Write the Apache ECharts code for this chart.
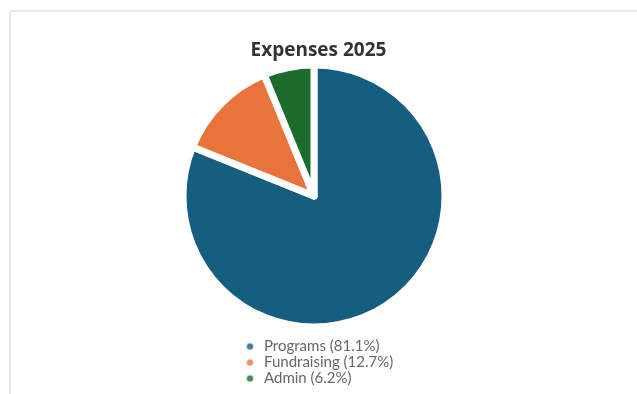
<!DOCTYPE html>
<html>
<head>
<meta charset="utf-8">
<title>Expenses 2025</title>
<script src="https://cdn.jsdelivr.net/npm/echarts@6/dist/echarts.min.js"></script>
<style>
  html, body { margin: 0; padding: 0; background: #fff; overflow: hidden; }
  #card {
    position: absolute; left: 9px; top: 10px; width: 700px; height: 500px;
    border: 2px solid #e8e8e8; border-radius: 3px; box-sizing: border-box;
  }
  #chart { position: absolute; left: 0; top: 0; width: 637px; height: 394px; }
</style>
</head>
<body>
<div id="card"></div>
<div id="chart"></div>
<script>
// Expense breakdown for 2025
const categories = ['Programs', 'Fundraising', 'Admin'];
const values = [81.1, 12.7, 6.2];
const colors = ['#155e80', '#e8743b', '#1b6b2b'];

const total = values.reduce((a, b) => a + b, 0);
const pct = {};
categories.forEach((c, i) => { pct[c] = (values[i] / total * 100).toFixed(1); });

const chart = echarts.init(document.getElementById('chart'), null, { renderer: 'canvas' });

chart.setOption({
  animation: false,
  title: {
    text: 'Expenses 2025',
    left: 'center',
    top: 36,
    textStyle: {
      fontFamily: 'Open Sans',
      fontWeight: 'bold',
      fontSize: 19,
      color: '#333'
    }
  },
  legend: {
    orient: 'vertical',
    left: 240,
    top: 334,
    icon: 'circle',
    itemWidth: 18,
    itemHeight: 8,
    itemGap: 1,
    itemStyle: { opacity: 0.8 },
    textStyle: { fontFamily: 'Lato', fontSize: 15, color: '#666' },
    data: categories,
    formatter: name => name + ' (' + pct[name] + '%)'
  },
  series: [{
    type: 'pie',
    center: [314, 196],
    radius: 131,
    startAngle: 90,
    clockwise: true,
    label: { show: false },
    labelLine: { show: false },
    itemStyle: { borderColor: '#fff', borderWidth: 7 },
    emphasis: { disabled: true },
    data: categories.map((c, i) => ({
      name: c,
      value: values[i],
      itemStyle: { color: colors[i] }
    }))
  }]
});
</script>
</body>
</html>
